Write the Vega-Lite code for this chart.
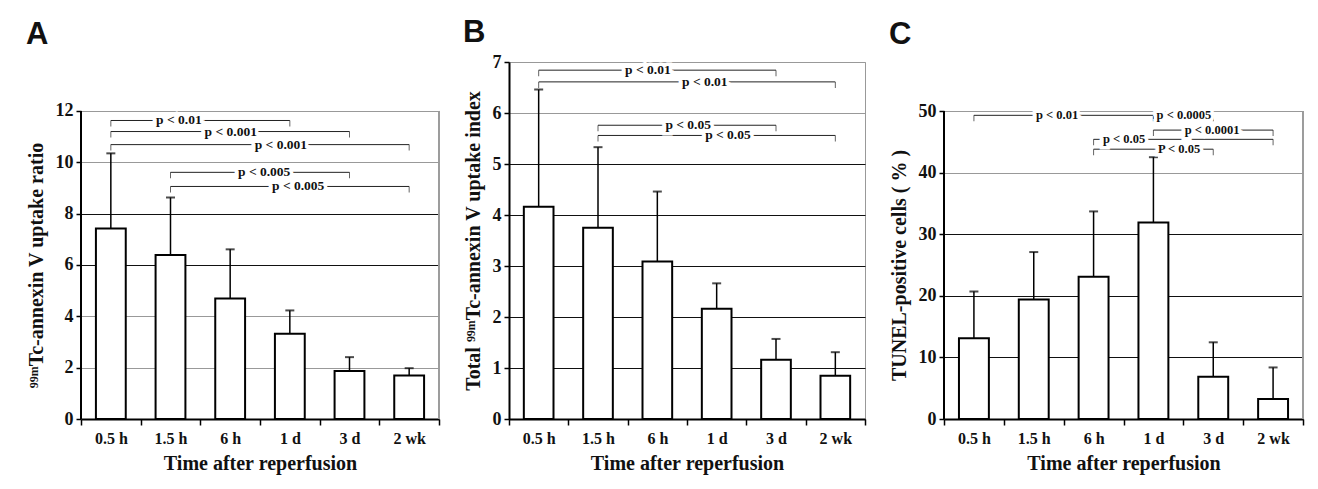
{
  "$schema": "https://vega.github.io/schema/vega-lite/v6.json",
  "padding": {"left": 26, "top": 16, "right": 5, "bottom": 5},
  "background": "white",
  "spacing": 22,
  "config": {
    "view": {"stroke": "#999", "strokeWidth": 1},
    "font": "Liberation Serif",
    "axis": {
      "domainColor": "#000", "domainWidth": 2, "tickColor": "#000", "tickWidth": 1.5, "tickSize": 5,
      "labelFont": "Liberation Serif", "labelFontWeight": "bold", "labelColor": "#111",
      "titleFont": "Liberation Serif", "titleFontWeight": "bold", "titleColor": "#111", "titleFontSize": 20,
      "grid": false
    },
    "axisY": {"labelFontSize": 18, "labelPadding": 3, "titlePadding": 9, "gridWidth": 1.2},
    "axisX": {"labelFontSize": 16, "labelAngle": 0, "labelPadding": 5, "tickSize": 6, "titlePadding": 7},
    "title": {"font": "Liberation Sans", "fontSize": 31, "fontWeight": "bold", "color": "#111", "anchor": "start", "frame": "bounds", "baseline": "alphabetic"}
  },
  "hconcat": [
    {
      "title": {"text": "A", "offset": 11},
      "width": 358, "height": 357,
      "view": {"stroke": null},
      "layer": [
        {
          "data": {"values": [
            {"time": "0.5 h", "mean": 7.42, "upper": 10.35},
            {"time": "1.5 h", "mean": 6.39, "upper": 8.63},
            {"time": "6 h", "mean": 4.69, "upper": 6.61},
            {"time": "1 d", "mean": 3.32, "upper": 4.23},
            {"time": "3 d", "mean": 1.87, "upper": 2.41},
            {"time": "2 wk", "mean": 1.69, "upper": 1.98}
          ]},
          "encoding": {"x": {"field": "time", "type": "nominal", "sort": null, "scale": {"paddingInner": 0, "paddingOuter": 0}, "axis": {"title": "Time after reperfusion", "tickBand": "extent"}}},
          "layer": [
            {"mark": {"type": "bar", "fill": "white", "stroke": "black", "strokeWidth": 2, "width": {"band": 0.5}},
             "encoding": {"y": {"field": "mean", "type": "quantitative", "scale": {"domain": [0, 13.909], "nice": false},
               "axis": {"title": "⁹⁹ᵐTc-annexin V uptake ratio", "titleY": 203, "domain": false, "values": [0,1,2,3,4,5,6,7,8,9,10,11,12],
                 "labelExpr": "datum.value % 2 === 0 ? datum.label : ''", "grid": true,
                 "gridColor": {"condition": {"test": "datum.value === 8 || datum.value === 6", "value": "#111"}, "value": "#999"},
                 "gridOpacity": {"condition": {"test": "datum.value % 2 === 0", "value": 1}, "value": 0}}}}},
            {"mark": {"type": "rule", "strokeWidth": 1.5, "color": "black"},
             "encoding": {"y": {"field": "upper", "type": "quantitative"}, "y2": {"field": "mean"}}},
            {"mark": {"type": "tick", "orient": "horizontal", "size": 9, "thickness": 2, "color": "black"},
             "encoding": {"y": {"field": "upper", "type": "quantitative"}}}
          ]
        },
        {
          "data": {"values": [
            {"from": 0, "to": 3, "level": 11.63, "label": "p < 0.01", "at": 1.14},
            {"from": 0, "to": 4, "level": 11.2, "label": "p < 0.001", "at": 2.01},
            {"from": 0, "to": 5, "level": 10.69, "label": "p < 0.001", "at": 2.85},
            {"from": 1, "to": 4, "level": 9.61, "label": "p < 0.005", "at": 2.57},
            {"from": 1, "to": 5, "level": 9.06, "label": "p < 0.005", "at": 3.14}
          ]},
          "layer": [
            {"mark": {"type": "rule", "color": "#999", "strokeWidth": 1},
             "encoding": {"x": {"datum": 5.5, "type": "quantitative", "scale": {"domain": [-0.5, 5.5], "nice": false, "zero": false}, "axis": null}, "y": {"datum": 0, "type": "quantitative", "scale": {"domain": [0, 13.909], "nice": false}}, "y2": {"datum": 12}}},
            {"mark": {"type": "rule", "color": "#000", "strokeWidth": 2},
             "encoding": {"x": {"datum": -0.5, "type": "quantitative", "scale": {"domain": [-0.5, 5.5], "nice": false, "zero": false}, "axis": null}, "y": {"datum": 0, "type": "quantitative", "scale": {"domain": [0, 13.909], "nice": false}}, "y2": {"datum": 12}}},
            {"mark": {"type": "rule", "color": "#222", "strokeWidth": 1},
             "encoding": {"x": {"field": "from", "type": "quantitative", "scale": {"domain": [-0.5, 5.5], "nice": false, "zero": false}, "axis": null}, "x2": {"field": "to"}, "y": {"field": "level", "type": "quantitative", "scale": {"domain": [0, 13.909], "nice": false}}}},
            {"mark": {"type": "tick", "orient": "vertical", "size": 6, "thickness": 1, "yOffset": 3, "color": "#222"},
             "encoding": {"x": {"field": "from", "type": "quantitative", "scale": {"domain": [-0.5, 5.5], "nice": false, "zero": false}, "axis": null}, "y": {"field": "level", "type": "quantitative"}}},
            {"mark": {"type": "tick", "orient": "vertical", "size": 6, "thickness": 1, "yOffset": 3, "color": "#222"},
             "encoding": {"x": {"field": "to", "type": "quantitative", "scale": {"domain": [-0.5, 5.5], "nice": false, "zero": false}, "axis": null}, "y": {"field": "level", "type": "quantitative"}}},
            {"mark": {"type": "text", "font": "Liberation Serif", "fontWeight": "bold", "fontSize": 13.5, "fill": "white", "stroke": "white", "strokeWidth": 7},
             "encoding": {"x": {"field": "at", "type": "quantitative", "scale": {"domain": [-0.5, 5.5], "nice": false, "zero": false}, "axis": null}, "y": {"field": "level", "type": "quantitative"}, "text": {"field": "label"}}},
            {"mark": {"type": "text", "font": "Liberation Serif", "fontWeight": "bold", "fontSize": 13.5, "fill": "#111"},
             "encoding": {"x": {"field": "at", "type": "quantitative", "scale": {"domain": [-0.5, 5.5], "nice": false, "zero": false}, "axis": null}, "y": {"field": "level", "type": "quantitative"}, "text": {"field": "label"}}}
          ]
        }
      ],
      "resolve": {"scale": {"x": "independent"}}
    },
    {
      "title": {"text": "B", "offset": 4},
      "width": 356, "height": 357,
      "layer": [
        {
          "data": {"values": [
            {"time": "0.5 h", "mean": 4.16, "upper": 6.46},
            {"time": "1.5 h", "mean": 3.75, "upper": 5.33},
            {"time": "6 h", "mean": 3.09, "upper": 4.46},
            {"time": "1 d", "mean": 2.16, "upper": 2.66},
            {"time": "3 d", "mean": 1.16, "upper": 1.57},
            {"time": "2 wk", "mean": 0.85, "upper": 1.31}
          ]},
          "encoding": {"x": {"field": "time", "type": "nominal", "sort": null, "scale": {"paddingInner": 0, "paddingOuter": 0}, "axis": {"title": "Time after reperfusion", "tickBand": "extent"}}},
          "layer": [
            {"mark": {"type": "bar", "fill": "white", "stroke": "black", "strokeWidth": 2, "width": {"band": 0.5}},
             "encoding": {"y": {"field": "mean", "type": "quantitative", "scale": {"domain": [0, 7], "nice": false},
               "axis": {"title": "Total ⁹⁹ᵐTc-annexin V uptake index", "values": [0,0.5,1,1.5,2,2.5,3,3.5,4,4.5,5,5.5,6,6.5,7],
                 "labelExpr": "datum.value % 1 === 0 ? datum.label : ''", "grid": true,
                 "gridColor": {"condition": {"test": "datum.value <= 5", "value": "#111"}, "value": "#999"},
                 "gridOpacity": {"condition": {"test": "datum.value % 1 === 0", "value": 1}, "value": 0}}}}},
            {"mark": {"type": "rule", "strokeWidth": 1.5, "color": "black"},
             "encoding": {"y": {"field": "upper", "type": "quantitative"}, "y2": {"field": "mean"}}},
            {"mark": {"type": "tick", "orient": "horizontal", "size": 9, "thickness": 2, "color": "black"},
             "encoding": {"y": {"field": "upper", "type": "quantitative"}}}
          ]
        },
        {
          "data": {"values": [
            {"from": 0, "to": 4, "level": 6.84, "label": "p < 0.01", "at": 1.84},
            {"from": 0, "to": 5, "level": 6.61, "label": "p < 0.01", "at": 2.8},
            {"from": 1, "to": 4, "level": 5.76, "label": "p < 0.05", "at": 2.52},
            {"from": 1, "to": 5, "level": 5.56, "label": "p < 0.05", "at": 3.19}
          ]},
          "encoding": {"y": {"field": "level", "type": "quantitative", "scale": {"domain": [0, 7], "nice": false}}},
          "layer": [
            {"mark": {"type": "rule", "color": "#222", "strokeWidth": 1},
             "encoding": {"x": {"field": "from", "type": "quantitative", "scale": {"domain": [-0.5, 5.5], "nice": false, "zero": false}, "axis": null}, "x2": {"field": "to"}}},
            {"mark": {"type": "tick", "orient": "vertical", "size": 6, "thickness": 1, "yOffset": 3, "color": "#222"},
             "encoding": {"x": {"field": "from", "type": "quantitative", "scale": {"domain": [-0.5, 5.5], "nice": false, "zero": false}, "axis": null}}},
            {"mark": {"type": "tick", "orient": "vertical", "size": 6, "thickness": 1, "yOffset": 3, "color": "#222"},
             "encoding": {"x": {"field": "to", "type": "quantitative", "scale": {"domain": [-0.5, 5.5], "nice": false, "zero": false}, "axis": null}}},
            {"mark": {"type": "text", "font": "Liberation Serif", "fontWeight": "bold", "fontSize": 13.5, "fill": "white", "stroke": "white", "strokeWidth": 7},
             "encoding": {"x": {"field": "at", "type": "quantitative", "scale": {"domain": [-0.5, 5.5], "nice": false, "zero": false}, "axis": null}, "text": {"field": "label"}}},
            {"mark": {"type": "text", "font": "Liberation Serif", "fontWeight": "bold", "fontSize": 13.5, "fill": "#111"},
             "encoding": {"x": {"field": "at", "type": "quantitative", "scale": {"domain": [-0.5, 5.5], "nice": false, "zero": false}, "axis": null}, "text": {"field": "label"}}}
          ]
        }
      ],
      "resolve": {"scale": {"x": "independent"}}
    },
    {
      "title": {"text": "C", "offset": 11},
      "width": 359, "height": 357,
      "view": {"stroke": null},
      "layer": [
        {
          "data": {"values": [
            {"time": "0.5 h", "mean": 13.1, "upper": 20.7},
            {"time": "1.5 h", "mean": 19.4, "upper": 27.1},
            {"time": "6 h", "mean": 23.1, "upper": 33.7},
            {"time": "1 d", "mean": 31.9, "upper": 42.5},
            {"time": "3 d", "mean": 6.85, "upper": 12.45},
            {"time": "2 wk", "mean": 3.26, "upper": 8.37}
          ]},
          "encoding": {"x": {"field": "time", "type": "nominal", "sort": null, "scale": {"paddingInner": 0, "paddingOuter": 0}, "axis": {"title": "Time after reperfusion", "tickBand": "extent"}}},
          "layer": [
            {"mark": {"type": "bar", "fill": "white", "stroke": "black", "strokeWidth": 2, "width": {"band": 0.5}},
             "encoding": {"y": {"field": "mean", "type": "quantitative", "scale": {"domain": [0, 57.955], "nice": false},
               "axis": {"title": "TUNEL-positive cells ( % )", "titleY": 203, "domain": false, "values": [0,5,10,15,20,25,30,35,40,45,50],
                 "labelExpr": "datum.value % 10 === 0 ? datum.label : ''", "grid": true,
                 "gridColor": {"condition": {"test": "datum.value <= 30", "value": "#111"}, "value": "#999"},
                 "gridOpacity": {"condition": {"test": "datum.value % 10 === 0", "value": 1}, "value": 0}}}}},
            {"mark": {"type": "rule", "strokeWidth": 1.5, "color": "black"},
             "encoding": {"y": {"field": "upper", "type": "quantitative"}, "y2": {"field": "mean"}}},
            {"mark": {"type": "tick", "orient": "horizontal", "size": 9, "thickness": 2, "color": "black"},
             "encoding": {"y": {"field": "upper", "type": "quantitative"}}}
          ]
        },
        {
          "data": {"values": [
            {"from": 0, "to": 3, "level": 49.3, "label": "p < 0.01", "at": 1.39},
            {"from": 3, "to": 4, "level": 49.3, "label": "p < 0.0005", "at": 3.51},
            {"from": 3, "to": 5, "level": 46.9, "label": "p < 0.0001", "at": 3.98},
            {"from": 2, "to": 5, "level": 45.4, "label": "p < 0.05", "at": 2.51},
            {"from": 2, "to": 4, "level": 43.8, "label": "P < 0.05", "at": 3.43}
          ]},
          "layer": [
            {"mark": {"type": "rule", "color": "#999", "strokeWidth": 1},
             "encoding": {"x": {"datum": 5.5, "type": "quantitative", "scale": {"domain": [-0.5, 5.5], "nice": false, "zero": false}, "axis": null}, "y": {"datum": 0, "type": "quantitative", "scale": {"domain": [0, 57.955], "nice": false}}, "y2": {"datum": 50}}},
            {"mark": {"type": "rule", "color": "#000", "strokeWidth": 2},
             "encoding": {"x": {"datum": -0.5, "type": "quantitative", "scale": {"domain": [-0.5, 5.5], "nice": false, "zero": false}, "axis": null}, "y": {"datum": 0, "type": "quantitative", "scale": {"domain": [0, 57.955], "nice": false}}, "y2": {"datum": 50}}},
            {"mark": {"type": "rule", "color": "#222", "strokeWidth": 1},
             "encoding": {"x": {"field": "from", "type": "quantitative", "scale": {"domain": [-0.5, 5.5], "nice": false, "zero": false}, "axis": null}, "x2": {"field": "to"}, "y": {"field": "level", "type": "quantitative", "scale": {"domain": [0, 57.955], "nice": false}}}},
            {"mark": {"type": "tick", "orient": "vertical", "size": 6, "thickness": 1, "yOffset": 3, "color": "#222"},
             "encoding": {"x": {"field": "from", "type": "quantitative", "scale": {"domain": [-0.5, 5.5], "nice": false, "zero": false}, "axis": null}, "y": {"field": "level", "type": "quantitative"}}},
            {"mark": {"type": "tick", "orient": "vertical", "size": 6, "thickness": 1, "yOffset": 3, "color": "#222"},
             "encoding": {"x": {"field": "to", "type": "quantitative", "scale": {"domain": [-0.5, 5.5], "nice": false, "zero": false}, "axis": null}, "y": {"field": "level", "type": "quantitative"}}},
            {"mark": {"type": "text", "font": "Liberation Serif", "fontWeight": "bold", "fontSize": 12.5, "fill": "white", "stroke": "white", "strokeWidth": 7},
             "encoding": {"x": {"field": "at", "type": "quantitative", "scale": {"domain": [-0.5, 5.5], "nice": false, "zero": false}, "axis": null}, "y": {"field": "level", "type": "quantitative"}, "text": {"field": "label"}}},
            {"mark": {"type": "text", "font": "Liberation Serif", "fontWeight": "bold", "fontSize": 12.5, "fill": "#111"},
             "encoding": {"x": {"field": "at", "type": "quantitative", "scale": {"domain": [-0.5, 5.5], "nice": false, "zero": false}, "axis": null}, "y": {"field": "level", "type": "quantitative"}, "text": {"field": "label"}}}
          ]
        }
      ],
      "resolve": {"scale": {"x": "independent"}}
    }
  ]
}
